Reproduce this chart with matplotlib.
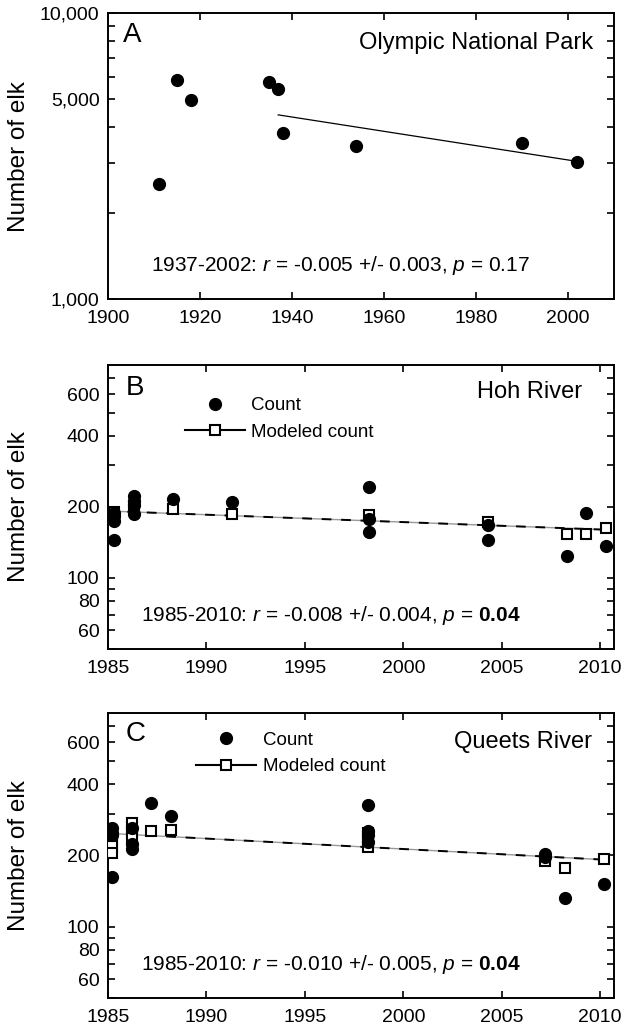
import numpy as np
import matplotlib
matplotlib.use("Agg")
import matplotlib.pyplot as plt
from matplotlib.ticker import FixedLocator, FixedFormatter, NullLocator
from matplotlib.lines import Line2D

plt.rcParams['font.family'] = ['Liberation Sans', 'DejaVu Sans']
plt.rcParams['mathtext.fontset'] = 'custom'
plt.rcParams['mathtext.rm'] = 'Liberation Sans'
plt.rcParams['mathtext.it'] = 'Liberation Sans:italic'
plt.rcParams['mathtext.bf'] = 'Liberation Sans:bold'

# ---------------- data ----------------
# A: Olympic National Park
onp_years = [1911, 1915, 1918, 1935, 1937, 1938, 1954, 1990, 2002]
onp_counts = [2530, 5820, 4980, 5750, 5420, 3800, 3420, 3510, 3005]
onp_trend_years = [1937, 2002]
onp_trend_vals = [4410, 3030]

# B: Hoh River
hoh_years = [1985.3, 1985.3, 1985.3, 1985.3, 1986.3, 1986.3, 1986.3, 1986.3,
             1988.3, 1991.3, 1998.25, 1998.25, 1998.25, 2004.3, 2004.3,
             2008.3, 2009.3, 2010.3]
hoh_counts = [189, 183, 174, 145, 223, 211, 204, 186,
              215, 209, 243, 177, 156, 168, 145,
              124, 189, 137]
hoh_model_years = [1985.3, 1986.3, 1988.3, 1991.3, 1998.25, 2004.3, 2008.3, 2009.3, 2010.3]
hoh_model = [190, 201, 196, 186, 184, 172, 154, 154, 162]
hoh_trend_years = [1985, 2010.3]
hoh_trend_vals = [192, 160]

# C: Queets River
qr_years = [1985.2, 1985.2, 1985.2, 1985.2, 1986.2, 1986.2, 1986.2, 1987.2,
            1988.2, 1998.2, 1998.2, 1998.2, 1998.2, 2007.2, 2007.2, 2008.2, 2010.2]
qr_counts = [261, 250, 245, 162, 262, 224, 212, 333,
             293, 328, 254, 244, 227, 203, 197, 133, 152]
qr_model_years = [1985.2, 1985.2, 1985.2, 1986.2, 1986.2, 1986.2, 1987.2, 1988.2,
                  1998.2, 1998.2, 1998.2, 2007.2, 2008.2, 2010.2]
qr_model = [238, 220, 205, 275, 254, 236, 254, 256,
            250, 236, 218, 189, 177, 194]
qr_trend_years = [1985, 2010.2]
qr_trend_vals = [248, 192]

stats_a = "1937-2002: $\\mathit{r}$ = -0.005 +/- 0.003, $\\mathit{p}$ = 0.17"
stats_b = "1985-2010: $\\mathit{r}$ = -0.008 +/- 0.004, $\\mathit{p}$ = $\\mathbf{0.04}$"
stats_c = "1985-2010: $\\mathit{r}$ = -0.010 +/- 0.005, $\\mathit{p}$ = $\\mathbf{0.04}$"

# ---------------- figure ----------------
fig = plt.figure(figsize=(6.24, 10.27), dpi=100)
ax_a = fig.add_axes([0.173, 0.709, 0.811, 0.278])
ax_b = fig.add_axes([0.173, 0.368, 0.811, 0.277])
ax_c = fig.add_axes([0.173, 0.028, 0.811, 0.278])


def style_axis(ax):
    for s in ax.spines.values():
        s.set_linewidth(1.4)
    ax.tick_params(which='both', direction='in', top=True, right=True,
                   length=5, width=1.2, labelsize=14)
    ax.tick_params(axis='x', pad=8)
    ax.tick_params(axis='y', pad=6)
    ax.set_ylabel('Number of elk', fontsize=17.5)
    ax.yaxis.set_label_coords(-0.155, 0.5)


# ---- A ----
ax_a.plot(onp_years, onp_counts, 'o', color='black', markersize=8.5, zorder=3)
ax_a.plot(onp_trend_years, onp_trend_vals, '-', color='black', linewidth=0.9)
ax_a.set_yscale('log')
ax_a.set_xlim(1900, 2010)
ax_a.set_ylim(1000, 10000)
a_ticks = [1000, 2000, 3000, 4000, 5000, 6000, 7000, 8000, 9000, 10000]
a_labels = ['1,000', '', '', '', '5,000', '', '', '', '', '10,000']
ax_a.yaxis.set_major_locator(FixedLocator(a_ticks))
ax_a.yaxis.set_major_formatter(FixedFormatter(a_labels))
ax_a.yaxis.set_minor_locator(NullLocator())
ax_a.set_xticks([1900, 1920, 1940, 1960, 1980, 2000])
style_axis(ax_a)
ax_a.text(0.03, 0.925, 'A', transform=ax_a.transAxes, fontsize=20, va='center')
ax_a.text(0.958, 0.895, 'Olympic National Park', transform=ax_a.transAxes,
          fontsize=17, ha='right', va='center')
ax_a.text(0.46, 0.118, stats_a, transform=ax_a.transAxes, fontsize=15,
          ha='center', va='center')

# ---- B and C ----
bc_ticks = [50, 60, 70, 80, 90, 100, 200, 300, 400, 500, 600, 700]
bc_labels = ['', '60', '', '80', '', '100', '200', '', '400', '', '600', '']


def river_panel(ax, years, counts, m_years, model, t_years, t_vals,
                letter, name, stats, pos):
    ax.plot(t_years, t_vals, '-', color='#999999', linewidth=1.0, zorder=2)
    ax.plot(t_years, t_vals, '--', color='black', linewidth=1.4,
            dashes=(5, 5), zorder=2)
    ax.plot(m_years, model, 's', markerfacecolor='white', markeredgecolor='black',
            markeredgewidth=1.5, markersize=7.5, zorder=3)
    ax.plot(years, counts, 'o', color='black', markersize=8.5, zorder=4)
    ax.set_yscale('log')
    ax.set_xlim(1985, 2010.7)
    ax.set_ylim(50, 800)
    ax.yaxis.set_major_locator(FixedLocator(bc_ticks))
    ax.yaxis.set_major_formatter(FixedFormatter(bc_labels))
    ax.yaxis.set_minor_locator(NullLocator())
    ax.set_xticks([1985, 1990, 1995, 2000, 2005, 2010])
    style_axis(ax)
    ax.text(0.035, pos[0], letter, transform=ax.transAxes, fontsize=20, va='center')
    ax.text(pos[3], pos[4], name, transform=ax.transAxes,
            fontsize=17, ha='right', va='center')
    ax.text(0.44, 0.117, stats, transform=ax.transAxes, fontsize=15,
            ha='center', va='center')
    handles = [Line2D([], [], marker='o', color='black', linestyle='none', markersize=8.5),
               Line2D([], [], marker='s', color='black', markerfacecolor='white',
                      markeredgewidth=1.5, markersize=7.5, linewidth=1.5)]
    ax.legend(handles, ['Count', 'Modeled count'], loc='upper left',
              bbox_to_anchor=(pos[1], pos[2]), frameon=False, fontsize=13.5,
              handlelength=3.2, handletextpad=0.35, labelspacing=0.5,
              borderaxespad=0, borderpad=0)


river_panel(ax_b, hoh_years, hoh_counts, hoh_model_years, hoh_model,
            hoh_trend_years, hoh_trend_vals, 'B', 'Hoh River', stats_b,
            (0.916, 0.152, 0.885, 0.937, 0.904))
river_panel(ax_c, qr_years, qr_counts, qr_model_years, qr_model,
            qr_trend_years, qr_trend_vals, 'C', 'Queets River', stats_c,
            (0.924, 0.174, 0.933, 0.957, 0.897))

fig.savefig('out.png', dpi=100)
